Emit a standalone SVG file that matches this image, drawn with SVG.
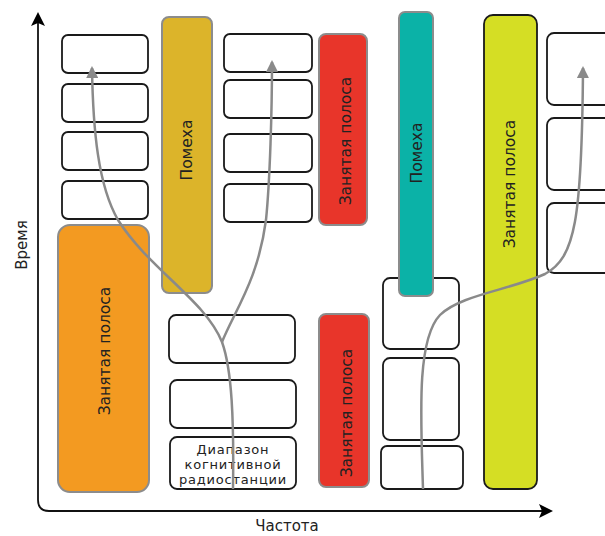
<svg xmlns="http://www.w3.org/2000/svg" width="605" height="536" viewBox="0 0 605 536">
<style>
.w{fill:#fff;stroke:#1a1a1a;stroke-width:1.8}
.c{stroke:#8c8c8c;stroke-width:2}
.t{font-family:"DejaVu Sans","Liberation Sans",sans-serif;font-size:15px;fill:#222;text-anchor:middle}
.v{font-size:15.5px}
.s{font-size:13px;letter-spacing:0.8px}
.cv{fill:none;stroke:#8a8a8a;stroke-width:2.5}
</style>
<defs>
<marker id="ga" viewBox="0 0 12 12" refX="10" refY="6" markerWidth="12" markerHeight="12" markerUnits="userSpaceOnUse" orient="auto">
<path d="M0,0 L12,6 L0,12 Z" fill="#8a8a8a"/>
</marker>
<marker id="ba" viewBox="0 0 14 14" refX="12" refY="7" markerWidth="14" markerHeight="14" markerUnits="userSpaceOnUse" orient="auto">
<path d="M0,0 L14,7 L0,14 L3,7 Z" fill="#000"/>
</marker>
</defs>
<g id="axes">
<path d="M38,500 Q38,511 49,511 L551,511" fill="none" stroke="#111" stroke-width="1.8" marker-end="url(#ba)"/>
<path d="M38,500 L38,14" fill="none" stroke="#111" stroke-width="1.8" marker-end="url(#ba)"/>
<text class="t" x="287" y="531">Частота</text>
<text class="t" transform="translate(27,245) rotate(-90)">Время</text>
</g>
<g id="left-boxes">
<rect class="w" x="62" y="35" width="86" height="38" rx="6"/>
<rect class="w" x="62" y="84" width="86" height="38" rx="6"/>
<rect class="w" x="62" y="132" width="86" height="38" rx="6"/>
<rect class="w" x="62" y="181" width="86" height="38" rx="6"/>
</g>
<g id="busy-orange">
<rect class="c" x="58" y="225" width="91" height="267" rx="12" fill="#F39A21"/>
<text class="t v" transform="translate(110,351) rotate(-90)">Занятая полоса</text>
</g>
<g id="noise-gold">
<rect class="c" x="162" y="17" width="50" height="276" rx="7" fill="#DCB42A"/>
<text class="t v" transform="translate(192,150) rotate(-90)">Помеха</text>
</g>
<g id="mid-boxes">
<rect class="w" x="224" y="34" width="88" height="38" rx="6"/>
<rect class="w" x="224" y="80" width="88" height="38" rx="6"/>
<rect class="w" x="224" y="134" width="88" height="38" rx="6"/>
<rect class="w" x="224" y="184" width="88" height="38" rx="6"/>
</g>
<g id="busy-red-top">
<rect class="c" x="319" y="34" width="48" height="191" rx="7" fill="#E8352A"/>
<text class="t v" transform="translate(351,141) rotate(-90)">Занятая полоса</text>
</g>
<g id="lower-boxes">
<rect class="w" x="169" y="315" width="126" height="48" rx="7"/>
<rect class="w" x="170" y="380" width="126" height="48" rx="7"/>
</g>
<g id="cognitive-band">
<rect class="w" x="170" y="437" width="126" height="52" rx="7"/>
<text class="t s" x="233" y="454">Диапазон</text>
<text class="t s" x="233" y="469">когнитивной</text>
<text class="t s" x="233" y="484">радиостанции</text>
</g>
<g id="busy-red-bottom">
<rect class="c" x="319" y="314" width="50" height="173" rx="7" fill="#E8352A"/>
<text class="t v" transform="translate(352,413) rotate(-90)">Занятая полоса</text>
</g>
<g id="right-lower-boxes">
<rect class="w" x="383" y="278" width="76" height="71" rx="7"/>
<rect class="w" x="383" y="358" width="76" height="82" rx="7"/>
<rect class="w" x="381" y="446" width="82" height="43" rx="6"/>
</g>
<g id="noise-teal">
<rect class="c" x="399" y="12" width="34" height="284" rx="6" fill="#0BB2A7"/>
<text class="t v" transform="translate(422,153) rotate(-90)">Помеха</text>
</g>
<g id="busy-lime">
<rect x="484" y="15" width="53" height="474" rx="9" fill="#D5DE24" stroke="#1a1a1a" stroke-width="1.8"/>
<text class="t v" transform="translate(515,184) rotate(-90)">Занятая полоса</text>
</g>
<g id="right-boxes">
<rect class="w" x="547" y="33" width="80" height="72" rx="7"/>
<rect class="w" x="547" y="118" width="80" height="72" rx="7"/>
<rect class="w" x="547" y="203" width="80" height="70" rx="7"/>
</g>
<g id="connectors">
<path class="cv" d="M233,489 C234,420 232,370 222,342 C205,300 150,270 118,220 C98,185 93,130 92,68" marker-end="url(#ga)"/>
<path class="cv" d="M222,342 C235,310 258,280 266,220 C270,180 272,110 272,62" marker-end="url(#ga)"/>
<path class="cv" d="M423,489 C421,420 416,340 440,315 C460,295 510,290 545,274 C575,258 582,220 583,68" marker-end="url(#ga)"/>
</g>
</svg>
